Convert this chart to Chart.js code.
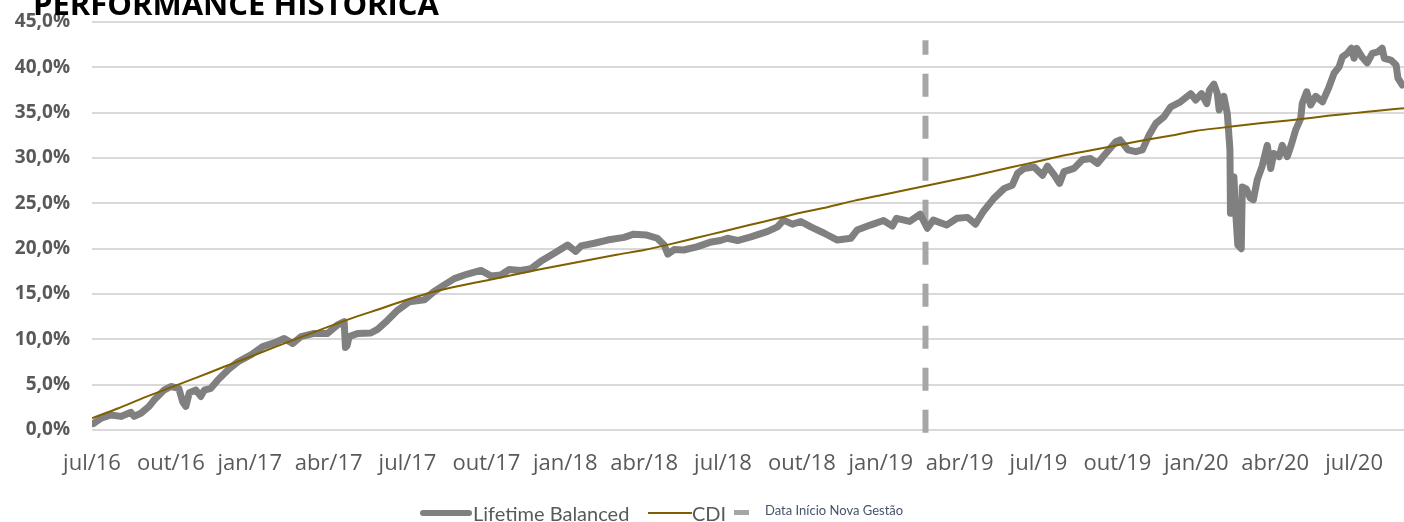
<!DOCTYPE html>
<html>
<head>
<meta charset="utf-8">
<script src="https://cdn.jsdelivr.net/npm/chart.js@4"></script>
<style>
  html, body { margin: 0; padding: 0; background: #fff; overflow: hidden; }
  #wrap { position: relative; width: 1404px; height: 522px; }
  #title { position: absolute; left: 33px; top: -12px; font: bold 31px 'Open Sans', sans-serif; line-height: 31px; color: #000; white-space: nowrap; }
  .lg { position: absolute; }
  .lgtxt { position: absolute; white-space: nowrap; font-family: Lato, sans-serif; color: #595959; }
</style>
</head>
<body>
<div id="wrap">
  <canvas id="chart" width="1404" height="522"></canvas>
  <div id="title">PERFORMANCE HISTÓRICA</div>
  <div class="lg" style="left:420px;top:510px;width:52px;height:6px;background:#808080;border-radius:3px"></div>
  <div class="lgtxt" style="left:473px;top:503px;font-size:20px;line-height:20px">Lifetime Balanced</div>
  <div class="lg" style="left:648px;top:512px;width:44px;height:2px;background:#7f6000"></div>
  <div class="lgtxt" style="left:692px;top:503px;font-size:20px;line-height:20px">CDI</div>
  <div class="lg" style="left:734px;top:510px;width:15px;height:5px;background:#a6a6a6"></div>
  <div class="lgtxt" style="left:765px;top:504px;font-size:13px;line-height:13px;color:#44546a">Data Início Nova Gestão</div>
</div>
<script>
// x axis is in months counted from jul/16
const tickLabels = ['jul/16','out/16','jan/17','abr/17','jul/17','out/17','jan/18','abr/18','jul/18',
  'out/18','jan/19','abr/19','jul/19','out/19','jan/20','abr/20','jul/20'];
const xMax = 49.9;

const lifetimeX = [0.05,0.2,0.35,0.72,1.1,1.48,1.6,1.86,2.17,2.36,2.74,3.0,3.3,3.45,3.57,3.7,3.95,4.14,4.27,4.52,
  4.78,5.16,5.54,6.05,6.49,6.93,7.31,7.63,7.95,8.45,8.96,9.34,9.59,9.64,9.7,9.78,10.1,10.6,10.86,11.24,
  11.62,12.07,12.64,13.0,13.4,13.78,14.28,14.79,15.17,15.55,15.87,16.3,16.7,17.07,17.58,18.09,18.4,18.6,19.1,19.6,
  20.24,20.6,21.1,21.5,21.76,21.9,22.14,22.5,23.0,23.5,23.9,24.17,24.55,25.06,25.7,26.07,26.3,26.64,26.96,27.34,
  27.85,28.35,28.86,29.1,29.6,30.1,30.44,30.6,31.1,31.5,31.77,32.0,32.5,32.9,33.3,33.6,33.9,34.3,34.7,35.0,
  35.2,35.45,35.83,36.15,36.34,36.6,36.8,36.97,37.35,37.67,37.98,38.24,38.5,38.94,39.1,39.4,39.7,39.95,40.2,40.46,
  40.77,41.03,41.4,41.79,41.98,42.2,42.4,42.5,42.67,42.8,42.87,43.05,43.18,43.28,43.3,43.43,43.5,43.58,43.71,43.75,
  43.9,44.05,44.17,44.32,44.5,44.7,44.83,44.95,45.15,45.27,45.46,45.59,45.78,45.97,46.03,46.2,46.35,46.54,46.8,47.05,
  47.24,47.43,47.56,47.75,47.9,48.0,48.1,48.3,48.5,48.7,48.9,49.07,49.15,49.4,49.6,49.67,49.83];
const lifetimeY = [0.7,1.0,1.3,1.65,1.5,1.95,1.5,1.85,2.6,3.3,4.4,4.8,4.6,3.1,2.6,4.1,4.4,3.7,4.4,4.6,
  5.5,6.6,7.5,8.3,9.2,9.6,10.1,9.55,10.3,10.65,10.65,11.6,11.95,9.1,9.3,10.3,10.65,10.7,11.1,12.1,
  13.2,14.15,14.35,15.25,16.0,16.7,17.2,17.6,17.0,17.1,17.7,17.6,17.8,18.6,19.5,20.4,19.7,20.3,20.6,20.95,
  21.25,21.6,21.5,21.15,20.4,19.4,19.9,19.85,20.2,20.7,20.9,21.15,20.9,21.3,21.9,22.4,23.15,22.7,23.0,22.4,
  21.7,20.95,21.15,22.05,22.6,23.1,22.5,23.35,23.0,23.8,22.25,23.15,22.6,23.35,23.45,22.7,24.1,25.55,26.65,27.0,
  28.3,28.85,29.0,28.1,29.1,28.1,27.2,28.5,28.85,29.8,29.95,29.4,30.3,31.8,32.0,30.9,30.7,30.9,32.5,33.8,
  34.55,35.65,36.2,37.1,36.4,37.1,36.0,37.5,38.15,37.1,35.3,36.8,34.9,30.9,23.9,27.9,23.9,20.4,20.0,26.8,
  26.6,25.6,25.4,27.6,29.05,31.4,28.85,30.5,30.15,31.4,30.15,31.25,33.1,34.35,36.0,37.3,35.85,36.8,36.2,37.85,
  39.35,40.05,41.15,41.55,42.1,41.0,42.1,41.15,40.5,41.55,41.7,42.1,41.0,40.8,40.25,38.8,38.05];

const cdiX = [0,1,2,3,4,5,6,7,8,9,10,11,12,13,14,15,16,17,18,19,20,21,22,23,24,25,26,27,28,29,
  30,31,32,33,34,35,36,37,38,39,40,41,42,43,44,45,46,47,48,49,49.9];
const cdiY = [1.3,2.4,3.6,4.7,5.8,6.95,8.05,9.2,10.3,11.4,12.45,13.4,14.4,15.25,15.9,16.5,17.1,17.7,18.25,18.8,
  19.35,19.85,20.5,21.2,21.9,22.6,23.3,24.0,24.6,25.3,25.9,26.5,27.1,27.7,28.35,29.0,29.65,30.3,30.85,31.4,
  31.95,32.45,33.0,33.35,33.7,34.0,34.3,34.65,34.95,35.25,35.5];

const gestaoX = 31.7;
const gestaoY = [-0.3, 43.0];

const pts = (xs, ys) => xs.map((x, i) => ({ x: x, y: ys[i] }));

new Chart(document.getElementById('chart'), {
  type: 'line',
  data: {
    datasets: [
      {
        label: 'Data Início Nova Gestão',
        data: gestaoY.map(y => ({ x: gestaoX, y: y })),
        borderColor: '#a6a6a6', borderWidth: 6, borderDash: [23, 19],
        pointRadius: 0, clip: false, order: 3
      },
      {
        label: 'CDI',
        data: pts(cdiX, cdiY),
        borderColor: '#7f6000', borderWidth: 2,
        pointRadius: 0, tension: 0.2, order: 1
      },
      {
        label: 'Lifetime Balanced',
        data: pts(lifetimeX, lifetimeY),
        borderColor: '#808080', borderWidth: 7,
        borderCapStyle: 'round', borderJoinStyle: 'round',
        pointRadius: 0, tension: 0, order: 2
      }
    ]
  },
  options: {
    responsive: false,
    animation: false,
    layout: { padding: { top: 22, right: 0, bottom: 32, left: 0 } },
    plugins: { legend: { display: false }, tooltip: { enabled: false } },
    scales: {
      x: {
        type: 'linear', min: 0, max: xMax,
        afterBuildTicks: s => { s.ticks = tickLabels.map((_, i) => ({ value: i * 3 })); },
        afterFit: s => { s.height = 60; },
        grid: { display: false },
        border: { display: false },
        ticks: {
          autoSkip: false, maxRotation: 0, padding: 13,
          color: '#595959', font: { family: 'Open Sans', size: 22 },
          callback: (v, i) => tickLabels[i]
        }
      },
      y: {
        min: 0, max: 45,
        afterFit: s => { s.width = 92; s.paddingTop = 10; s.paddingBottom = 10; },
        grid: { color: '#d9d9d9', lineWidth: 2, drawTicks: false },
        border: { display: false },
        ticks: {
          stepSize: 5, padding: 22,
          color: '#595959', font: { family: 'Open Sans', size: 19, weight: 'bold' },
          callback: v => v.toFixed(1).replace('.', ',') + '%'
        }
      }
    }
  }
});
</script>
</body>
</html>
